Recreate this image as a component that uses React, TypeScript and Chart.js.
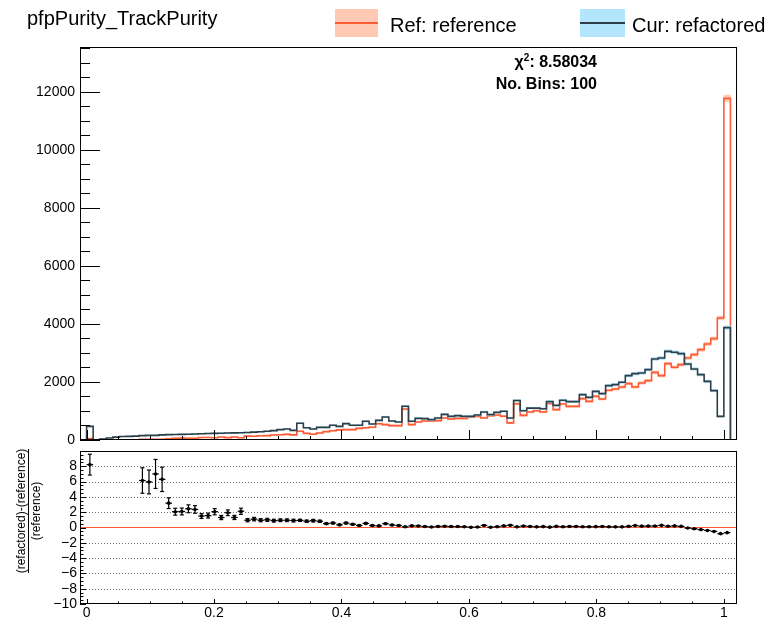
import React, { useEffect, useRef } from "react";
import { Chart, registerables } from "chart.js";

Chart.register(...registerables);

const FONT = '"Liberation Sans", Arial, Helvetica, sans-serif';
Chart.defaults.font.family = FONT;

// Binning: 100 bins; bin 1 starts at purity 0 and bin 98 starts at purity 1.
const N_BINS = 100;
const X_MIN = -1 / 97;
const X_MAX = 99 / 97;

const COUNT_AXIS_MAX = 13550;
const COUNT_MINOR_STEP = 500;
const RATIO_MIN = -10;
const RATIO_MAX = 10;
const RATIO_MINOR_STEP = 0.5;
const X_MINOR_STEP = 0.05;

// Labelled tick values
const countTicks = [0, 2000, 4000, 6000, 8000, 10000, 12000];
const ratioTicks = [-10, -8, -6, -4, -2, 0, 2, 4, 6, 8, 10];
const xTicks = [0, 0.2, 0.4, 0.6, 0.8, 1];
const ratioGrid = [-8, -6, -4, -2, 2, 4, 6, 8];

// Entries per bin (bins 0..99)
const refCounts = [
  0, 51, 0, 0, 0, 0, 0, 0, 0,
  21, 23, 20, 24, 44, 62, 63, 58, 61, 86,
  88, 75, 102, 82, 106, 80, 133, 129, 146, 150,
  170, 183, 195, 175, 300, 230, 200, 241, 290, 320,
  350, 356, 356, 400, 420, 440, 560, 529, 494, 494,
  1070, 529, 621, 655, 655, 667, 759, 724, 747, 747,
  793, 816, 760, 839, 862, 820, 590, 1250, 850, 965,
  1011, 965, 1264, 1046, 1241, 1161, 1161, 1425, 1333, 1506,
  1414, 1713, 1759, 1828, 1943, 1828, 1966, 2046, 2333, 2218,
  2632, 2506, 2598, 2828, 2943, 3115, 3310, 3494, 4207, 11780,
  0,
];

const curCounts = [
  0, 470, 5, 35, 69, 100, 120, 125, 135,
  150, 160, 160, 175, 184, 190, 195, 200, 205, 215,
  225, 230, 235, 240, 245, 250, 260, 270, 285, 300,
  322, 356, 380, 333, 580, 420, 379, 437, 437, 506,
  471, 563, 506, 506, 644, 552, 678, 793, 655, 621,
  1165, 644, 747, 736, 701, 759, 885, 816, 839, 816,
  816, 862, 966, 874, 954, 990, 758, 1360, 1011, 1100,
  1100, 1080, 1322, 1195, 1368, 1322, 1322, 1563, 1471, 1678,
  1598, 1874, 1908, 1989, 2218, 2287, 2310, 2425, 2793, 2828,
  3057, 3023, 2977, 2620, 2448, 2253, 2023, 1701, 816, 3874,
  0,
];

const TITLE = "pfpPurity_TrackPurity";
const REF_LABEL = "Ref: reference";
const CUR_LABEL = "Cur: refactored";
const CHI2_VALUE = "8.58034";
const N_BINS_LABEL = "No. Bins: 100";

const REF_LINE = "#ff5a36";
const REF_BAND = "#ffc9b4";
const CUR_LINE = "#2f3e46";
const CUR_BAND = "#b3e5fc";

const binWidth = (X_MAX - X_MIN) / N_BINS;
const edge = (k: number) => X_MIN + k * binWidth;
const center = (k: number) => X_MIN + (k + 0.5) * binWidth;

// Step outline: one point at each bin's low edge, plus the closing high edge.
function outline(counts: number[]) {
  const pts = counts.map((v, k) => ({ x: edge(k), y: v }));
  pts.push({ x: edge(counts.length), y: counts[counts.length - 1] });
  return pts;
}

// Statistical error band, +-sqrt(N) per bin.
function band(counts: number[]) {
  return counts.flatMap((v, k) =>
    v > 0 ? [{ x: center(k), y: [v - Math.sqrt(v), v + Math.sqrt(v)] }] : []
  );
}

// (cur - ref) / ref with propagated Poisson errors.
const ratioPoints = refCounts.flatMap((ref, k) => {
  const cur = curCounts[k];
  if (ref <= 0 || cur <= 0) return [];
  const r = cur / ref;
  return [{ k, x: center(k), y: r - 1, err: r * Math.sqrt(1 / cur + 1 / ref) }];
});

function seg(ctx: CanvasRenderingContext2D, x1: number, y1: number, x2: number, y2: number) {
  ctx.beginPath();
  ctx.moveTo(x1, y1);
  ctx.lineTo(x2, y2);
  ctx.stroke();
}

const crisp = (v: number) => Math.round(v) + 0.5;
const isMultiple = (v: number, step: number) => {
  const q = v / step;
  return Math.abs(q - Math.round(q)) < 1e-6;
};

type FrameCfg = {
  yMin: number;
  yMax: number;
  yMajor: number[];
  yMinor: number;
  yLen: [number, number];
  xLen: [number, number];
};

function framePlugin(cfg: FrameCfg) {
  return {
    id: "padFrame",
    afterDatasetsDraw(chart: any) {
      const { ctx, chartArea: a } = chart;
      const xs = chart.scales.x;
      const ys = chart.scales.y;
      ctx.save();
      ctx.strokeStyle = "#000";
      ctx.lineWidth = 1;
      const n = Math.floor((cfg.yMax - cfg.yMin) / cfg.yMinor + 1e-6);
      for (let i = 0; i <= n; i++) {
        const v = cfg.yMin + i * cfg.yMinor;
        const major = cfg.yMajor.some((t) => Math.abs(t - v) < 1e-6);
        const py = crisp(ys.getPixelForValue(v));
        seg(ctx, a.left, py, a.left + (major ? cfg.yLen[0] : cfg.yLen[1]), py);
      }
      for (let i = 0; ; i++) {
        const v = i * X_MINOR_STEP;
        if (v > X_MAX) break;
        const major = xTicks.some((t) => Math.abs(t - v) < 1e-6);
        const px = crisp(xs.getPixelForValue(v));
        seg(ctx, px, a.bottom, px, a.bottom - (major ? cfg.xLen[0] : cfg.xLen[1]));
      }
      ctx.strokeRect(a.left + 0.5, a.top + 0.5, a.right - a.left - 1, a.bottom - a.top - 1);
      ctx.restore();
    },
  };
}

const ratioExtras = {
  id: "ratioExtras",
  beforeDatasetsDraw(chart: any) {
    const { ctx, chartArea: a } = chart;
    const ys = chart.scales.y;
    ctx.save();
    ctx.strokeStyle = "#6f6f6f";
    ctx.lineWidth = 1;
    ctx.setLineDash([1, 2]);
    ratioGrid.forEach((v) => {
      const py = crisp(ys.getPixelForValue(v));
      seg(ctx, a.left, py, a.right, py);
    });
    ctx.restore();
  },
  afterDatasetsDraw(chart: any) {
    const { ctx, chartArea: a } = chart;
    const xs = chart.scales.x;
    const ys = chart.scales.y;
    ctx.save();
    ctx.beginPath();
    ctx.rect(a.left, a.top, a.right - a.left, a.bottom - a.top);
    ctx.clip();
    ctx.strokeStyle = "#000";
    ctx.lineWidth = 1.2;
    ratioPoints.forEach((p) => {
      const py = ys.getPixelForValue(p.y);
      const x0 = xs.getPixelForValue(edge(p.k));
      const x1 = xs.getPixelForValue(edge(p.k + 1));
      const xc = xs.getPixelForValue(p.x);
      const yt = ys.getPixelForValue(p.y + p.err);
      const yb = ys.getPixelForValue(p.y - p.err);
      seg(ctx, x0, py, x1, py);
      seg(ctx, xc, yt, xc, yb);
      seg(ctx, xc - 2, yt, xc + 2, yt);
      seg(ctx, xc - 2, yb, xc + 2, yb);
    });
    ctx.restore();
  },
};

const tickFont = { family: FONT, size: 14 };
const signed = (v: number) => (v < 0 ? "\u2212" + Math.abs(v) : String(v));
const fixedTicks = (values: number[]) => (s: any) => {
  s.ticks = values.map((value) => ({ value }));
};

export default function App() {
  const topRef = useRef<HTMLCanvasElement>(null);
  const ratioRef = useRef<HTMLCanvasElement>(null);

  useEffect(() => {
    const common = {
      animation: false as const,
      responsive: false,
      events: [] as any[],
      plugins: { legend: { display: false }, tooltip: { enabled: false } },
    };

    const top = new Chart(topRef.current!, {
      type: "line",
      data: {
        datasets: [
          {
            type: "bar",
            data: band(refCounts) as any,
            backgroundColor: REF_BAND,
            borderWidth: 0,
            grouped: false,
            barPercentage: 1,
            categoryPercentage: 1,
            order: 4,
          },
          {
            type: "line",
            data: outline(refCounts),
            borderColor: REF_LINE,
            borderWidth: 1.6,
            stepped: true,
            pointRadius: 0,
            fill: false,
            order: 3,
          },
          {
            type: "bar",
            data: band(curCounts) as any,
            backgroundColor: CUR_BAND,
            borderWidth: 0,
            grouped: false,
            barPercentage: 1,
            categoryPercentage: 1,
            order: 2,
          },
          {
            type: "line",
            data: outline(curCounts),
            borderColor: CUR_LINE,
            borderWidth: 1.6,
            stepped: true,
            pointRadius: 0,
            fill: false,
            order: 1,
          },
        ] as any,
      },
      options: {
        ...common,
        layout: { autoPadding: false, padding: { left: 0, top: 47, right: 36, bottom: 9 } },
        scales: {
          x: {
            type: "linear",
            min: X_MIN,
            max: X_MAX,
            offset: false,
            display: false,
            afterBuildTicks: fixedTicks(xTicks),
          },
          y: {
            type: "linear",
            min: 0,
            max: COUNT_AXIS_MAX,
            grid: { display: false, drawTicks: false },
            border: { display: false },
            afterBuildTicks: fixedTicks(countTicks),
            ticks: {
              autoSkip: false,
              padding: 5,
              color: "#000",
              font: tickFont,
              callback: (v: any) => String(Math.round(Number(v))),
            },
            afterFit: (s: any) => {
              s.width = 80;
              s.paddingTop = 0;
              s.paddingBottom = 0;
            },
          },
        },
      } as any,
      plugins: [
        framePlugin({
          yMin: 0,
          yMax: COUNT_AXIS_MAX,
          yMajor: countTicks,
          yMinor: COUNT_MINOR_STEP,
          yLen: [20, 10],
          xLen: [10, 4],
        }),
      ],
    });

    const ratio = new Chart(ratioRef.current!, {
      type: "line",
      data: {
        datasets: [
          {
            type: "line",
            data: [
              { x: X_MIN, y: 0 },
              { x: X_MAX, y: 0 },
            ],
            borderColor: REF_LINE,
            borderWidth: 1.2,
            pointRadius: 0,
            fill: false,
            order: 2,
          },
          {
            type: "scatter",
            data: ratioPoints.map((p) => ({ x: p.x, y: p.y })),
            pointRadius: 1.8,
            pointBackgroundColor: "#000",
            pointBorderWidth: 0,
            order: 1,
          },
        ] as any,
      },
      options: {
        ...common,
        layout: { autoPadding: false, padding: { left: 0, top: 2, right: 36, bottom: 0 } },
        scales: {
          x: {
            type: "linear",
            min: X_MIN,
            max: X_MAX,
            offset: false,
            grid: { display: false, drawTicks: false },
            border: { display: false },
            afterBuildTicks: fixedTicks(xTicks),
            ticks: {
              autoSkip: false,
              maxRotation: 0,
              padding: 1,
              color: "#000",
              font: tickFont,
              callback: (v: any) => String(Math.round(Number(v) * 10) / 10),
            },
            afterFit: (s: any) => {
              s.height = 14;
              s.paddingLeft = 0;
              s.paddingRight = 0;
            },
          },
          y: {
            type: "linear",
            min: RATIO_MIN,
            max: RATIO_MAX,
            grid: { display: false, drawTicks: false },
            border: { display: false },
            afterBuildTicks: fixedTicks(ratioTicks),
            ticks: {
              autoSkip: false,
              padding: 3,
              color: "#000",
              font: tickFont,
              // the top label sits on the pad edge and is cut off there
              callback: (v: any) => (Number(v) >= RATIO_MAX ? "" : signed(Math.round(Number(v)))),
            },
            afterFit: (s: any) => {
              s.width = 80;
              s.paddingTop = 0;
              s.paddingBottom = 0;
            },
          },
        },
      } as any,
      plugins: [
        ratioExtras,
        framePlugin({
          yMin: RATIO_MIN,
          yMax: RATIO_MAX,
          yMajor: ratioTicks,
          yMinor: RATIO_MINOR_STEP,
          yLen: [6, 3.5],
          xLen: [5, 2.5],
        }),
      ],
    });

    return () => {
      top.destroy();
      ratio.destroy();
    };
  }, []);

  const text = (extra: React.CSSProperties): React.CSSProperties => ({
    position: "absolute",
    whiteSpace: "nowrap",
    color: "#000",
    fontFamily: FONT,
    ...extra,
  });

  return (
    <div
      style={{
        position: "absolute",
        left: 0,
        top: 0,
        width: 773,
        height: 618,
        overflow: "hidden",
        background: "#fff",
        fontFamily: FONT,
      }}
    >
      <canvas ref={topRef} width={773} height={449} style={{ position: "absolute", left: 0, top: 0 }} />
      <canvas ref={ratioRef} width={773} height={169} style={{ position: "absolute", left: 0, top: 449 }} />

      <div style={text({ left: 27, top: 8, fontSize: 20, lineHeight: "20px" })}>{TITLE}</div>

      <div style={{ position: "absolute", left: 335, top: 9, width: 43, height: 28, background: REF_BAND }} />
      <div style={{ position: "absolute", left: 335, top: 22, width: 43, height: 2, background: REF_LINE }} />
      <div style={text({ left: 390, top: 15, fontSize: 20, lineHeight: "20px" })}>{REF_LABEL}</div>

      <div style={{ position: "absolute", left: 580, top: 9, width: 45, height: 28, background: CUR_BAND }} />
      <div style={{ position: "absolute", left: 580, top: 22, width: 45, height: 2, background: CUR_LINE }} />
      <div style={text({ left: 632, top: 15, fontSize: 20, lineHeight: "20px" })}>{CUR_LABEL}</div>

      <div
        style={text({
          right: 176,
          top: 54,
          fontSize: 16,
          lineHeight: "16px",
          fontWeight: "bold",
          textAlign: "right",
        })}
      >
        {"\u03c7"}
        <sup style={{ fontSize: 10, lineHeight: 0, verticalAlign: "6px" }}>2</sup>
        {": " + CHI2_VALUE}
      </div>
      <div
        style={text({
          right: 176,
          top: 76,
          fontSize: 16,
          lineHeight: "16px",
          fontWeight: "bold",
          textAlign: "right",
        })}
      >
        {N_BINS_LABEL}
      </div>

      <div
        style={{
          position: "absolute",
          left: 28 - 70,
          top: 511 - 14,
          width: 140,
          height: 28,
          transform: "rotate(-90deg)",
          transformOrigin: "50% 50%",
          textAlign: "center",
          fontFamily: FONT,
          fontSize: 12,
          color: "#000",
        }}
      >
        <div
          style={{
            display: "inline-block",
            lineHeight: "12px",
            paddingBottom: 1,
            borderBottom: "1px solid #000",
            whiteSpace: "nowrap",
          }}
        >
          (refactored)-(reference)
        </div>
        <div style={{ lineHeight: "12px", marginTop: 1, whiteSpace: "nowrap" }}>(reference)</div>
      </div>
    </div>
  );
}
